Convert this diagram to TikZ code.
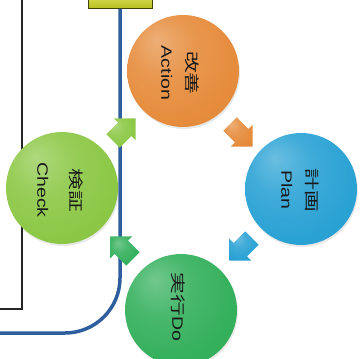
\documentclass[tikz,border=0pt]{standalone}
\usepackage{fontspec}
\setmainfont{Liberation Sans}
\newfontfamily\cjk{Noto Sans CJK JP}
\usetikzlibrary{shapes.arrows,shadows}

\definecolor{actorange}{HTML}{E68C3C}
\definecolor{plnblue}{HTML}{2AA2D4}
\definecolor{chklime}{HTML}{8CC846}
\definecolor{dogreen}{HTML}{34B05C}
\definecolor{lineblue}{HTML}{2E5E9E}
\definecolor{boxyellow}{HTML}{D8E024}
\colorlet{gloss}{gray}
\pgfdeclareradialshading[gloss]{glossball}{\pgfqpoint{-12bp}{14bp}}{color(0bp)=(gloss!70!white); color(14bp)=(gloss!90!white); color(30bp)=(gloss); color(55bp)=(gloss!92!black); color(62bp)=(gloss!85!black)}

\tikzset{
  orb/.style={circle, minimum size=112pt, inner sep=0pt, shading=glossball,
    /utils/exec={\colorlet{gloss}{#1}},
    drop shadow={opacity=.18, shadow xshift=1pt, shadow yshift=-2pt}},
  cyclearrow/.style={single arrow, minimum height=32pt, minimum width=31pt,
    single arrow head extend=6pt, inner xsep=0pt, inner ysep=9pt, shading=glossball,
    /utils/exec={\colorlet{gloss}{#1}}},
  lbl/.style={rotate=-90, align=center, inner sep=0pt, text=black!90,
    font=\fontsize{15}{25}\selectfont},
  topbox/.style={rectangle, minimum width=64pt, minimum height=17pt,
    top color=boxyellow!70!white, bottom color=boxyellow!85!black, draw=black!70!boxyellow, line width=1pt}
}

\begin{document}
\begin{tikzpicture}[x=1pt,y=-1pt]
        \useasboundingbox (0,0) rectangle (363,358);
        \node[topbox] (top) at (120,0) {};
        \coordinate (ktop) at (22,0);
        \coordinate (kend) at (0,309);
        \coordinate (bend) at (0,333);
        \draw[black!85, line width=2.5pt] (ktop) |- (kend);
        \draw[lineblue, line width=3.5pt, rounded corners=55pt] (top.south) |- (bend);
        \node[orb=actorange] (act) at (183,71) {};
        \node[orb=plnblue] (pln) at (301,189) {};
        \node[orb=chklime] (chk) at (62,188) {};
        \node[orb=dogreen] (do) at (181,310) {};
        \node[lbl] (actlbl) at (180,73) {\scalebox{1.45}[1]{\cjk 改善}\\\scalebox{1.3}[1]{Action}};
        \node[lbl] (plnlbl) at (300,190) {\scalebox{1.45}[1]{\cjk 計画}\\\scalebox{1.3}[1]{Plan}};
        \node[lbl] (chklbl) at (60,190) {\scalebox{1.45}[1]{\cjk 検証}\\[8pt]\scalebox{1.3}[1]{Check}};
        \node[lbl] (dolbl) at (178,307) {\scalebox{1.45}[1]{\cjk 実行}\scalebox{1.3}[1]{Do}};
        \node[cyclearrow=actorange, rotate=-45] (a1) at (238,132) {};
        \node[cyclearrow=plnblue, rotate=-135] (a2) at (244,246) {};
        \node[cyclearrow=dogreen, rotate=135] (a3) at (125,251) {};
        \node[cyclearrow=chklime, rotate=45] (a4) at (121,133) {};
      \end{tikzpicture}
\end{document}
